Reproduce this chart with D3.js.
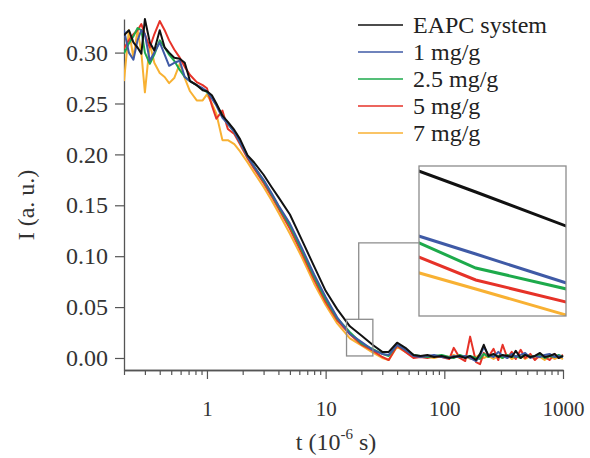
<!DOCTYPE html>
<html>
<head>
<meta charset="utf-8">
<script src="https://d3js.org/d3.v7.min.js"></script>
<style>
  body { margin: 0; background: #fff; }
  svg { display: block; }
</style>
</head>
<body>
<div id="chart"></div>
<script>
// time axis (10^-6 s)
var times = [0.2, 0.22, 0.24, 0.26, 0.28, 0.3, 0.33, 0.36, 0.4, 0.44,
  0.48, 0.53, 0.59, 0.65, 0.72, 0.82, 0.92, 1.0, 1.1, 1.2,
  1.35, 1.5, 1.7, 1.9, 2.2, 2.5, 3.0, 3.5, 4.0, 5.0,
  6.3, 8.0, 10, 12.5, 16, 20, 25, 30, 34, 40,
  47, 55, 63, 72, 82, 95, 110, 120, 135, 150,
  165, 185, 200, 215, 235, 260, 285, 310, 340, 370,
  400, 440, 480, 530, 580, 640, 700, 770, 850, 920, 1000];

var eapc = [0.317, 0.322, 0.310, 0.305, 0.299, 0.333, 0.310, 0.302, 0.322, 0.305,
  0.300, 0.295, 0.294, 0.290, 0.272, 0.268, 0.263, 0.262, 0.258, 0.250,
  0.238, 0.232, 0.224, 0.215, 0.199, 0.192, 0.180, 0.168, 0.158, 0.141,
  0.116, 0.090, 0.066, 0.048, 0.0311, 0.0220, 0.0127, 0.006, 0.006, 0.015,
  0.010, 0.003, 0.002, 0.003, 0.001, 0.002, 0.000, 0.001, 0.002, 0.000,
  0.002, -0.002, 0.004, 0.013, 0.002, 0.004, 0.001, 0.003, 0.002, 0.001,
  0.007, 0.000, 0.003, 0.001, 0.002, 0.005, 0.001, 0.002, 0.004, 0.000, 0.002];

var mg1 = [0.322, 0.300, 0.293, 0.312, 0.322, 0.318, 0.292, 0.300, 0.310, 0.298,
  0.287, 0.290, 0.292, 0.276, 0.272, 0.268, 0.265, 0.262, 0.255, 0.248,
  0.236, 0.230, 0.222, 0.212, 0.198, 0.188, 0.175, 0.162, 0.150, 0.132,
  0.108, 0.082, 0.060, 0.040, 0.0236, 0.0158, 0.0079, 0.004, 0.003, 0.013,
  0.008, 0.002, 0.001, 0.002, 0.003, 0.001, 0.000, 0.002, 0.001, 0.002,
  0.000, -0.003, 0.002, 0.011, 0.003, 0.001, 0.006, 0.002, 0.000, 0.004,
  0.001, 0.003, 0.005, 0.000, 0.002, 0.001, 0.003, 0.004, 0.001, 0.002, 0.001];

var mg25 = [0.299, 0.309, 0.316, 0.324, 0.322, 0.300, 0.289, 0.298, 0.312, 0.305,
  0.298, 0.292, 0.283, 0.276, 0.272, 0.268, 0.264, 0.261, 0.256, 0.249,
  0.238, 0.230, 0.222, 0.212, 0.198, 0.188, 0.174, 0.161, 0.149, 0.130,
  0.106, 0.080, 0.058, 0.039, 0.0253, 0.0144, 0.0087, 0.004, 0.002, 0.013,
  0.008, 0.003, 0.002, 0.001, 0.002, 0.003, 0.001, 0.000, 0.003, 0.001,
  0.002, 0.000, -0.001, 0.004, 0.001, 0.003, 0.002, 0.000, 0.003, 0.001,
  0.002, 0.000, 0.004, 0.001, 0.002, 0.003, 0.000, 0.002, 0.001, 0.003, 0.001];

var mg5 = [0.304, 0.312, 0.318, 0.322, 0.328, 0.318, 0.305, 0.318, 0.331, 0.322,
  0.312, 0.303, 0.295, 0.286, 0.278, 0.271, 0.268, 0.265, 0.248, 0.235,
  0.243, 0.225, 0.220, 0.210, 0.196, 0.186, 0.172, 0.159, 0.147, 0.127,
  0.103, 0.077, 0.055, 0.037, 0.0232, 0.0132, 0.0072, 0.001, -0.002, 0.012,
  0.006, 0.000, 0.001, 0.000, 0.002, 0.001, -0.001, 0.010, 0.000, -0.003,
  0.021, -0.004, -0.006, 0.005, 0.001, 0.009, -0.002, 0.013, 0.000, 0.006,
  -0.001, 0.008, 0.000, 0.004, -0.002, 0.003, 0.001, -0.002, 0.004, 0.000, 0.003];

var mg7 = [0.272, 0.322, 0.295, 0.322, 0.300, 0.261, 0.309, 0.290, 0.280, 0.276,
  0.270, 0.275, 0.289, 0.275, 0.262, 0.253, 0.253, 0.259, 0.250, 0.240,
  0.214, 0.214, 0.210, 0.203, 0.192, 0.182, 0.168, 0.155, 0.143, 0.122,
  0.099, 0.073, 0.052, 0.034, 0.0193, 0.0123, 0.0052, 0.000, -0.002, 0.011,
  0.006, 0.001, 0.002, 0.001, 0.000, 0.002, 0.001, 0.003, 0.000, 0.002,
  -0.001, 0.001, 0.003, 0.000, 0.002, -0.001, 0.002, 0.000, 0.003, -0.001,
  0.001, 0.003, -0.001, 0.002, 0.000, 0.001, -0.002, 0.002, -0.001, 0.001, -0.001];

var seriesNames  = ["EAPC system", "1 mg/g", "2.5 mg/g", "5 mg/g", "7 mg/g"];
var seriesValues = [eapc, mg1, mg25, mg5, mg7];
var seriesColors = ["#111111", "#3f5aa6", "#1daa4b", "#e63228", "#f8b133"];

var yTicks     = [0.00, 0.05, 0.10, 0.15, 0.20, 0.25, 0.30];
var xTicks     = [1, 10, 100, 1000];
var xMinorBase = [2, 3, 4, 5, 6, 7, 8, 9];

// zoomed region marked in the main plot and the inset's own window
var zoomT      = [15, 25];
var zoomI      = [0.002, 0.038];
var connectorT = 19;
var connectorI = 0.113;
var insetT     = [19, 21.7];
var insetI     = [0.0096, 0.0246];

var width  = 590;
var height = 458;
var font   = "'Liberation Serif', 'Times New Roman', serif";

var svg = d3.select("#chart")
    .append("svg")
    .attr("width", width)
    .attr("height", height)
    .style("font-family", font);

////////////
/// Axes ///
////////////

var x = d3.scaleLog().domain([0.2, 1000]).range([124, 563]);
var y = d3.scaleLinear().domain([-0.0118, 0.333]).range([370, 19]);

var minorTicks = [];
[0.1, 1, 10, 100].forEach(function (d) {
    xMinorBase.forEach(function (m) {
        var v = +(d * m).toPrecision(3);
        if (v >= 0.2 && v <= 1000) minorTicks.push(v);
    });
});

var axisColor = "#555";

var xMinor = svg.append("g")
    .attr("transform", "translate(0," + 370 + ")")
    .call(d3.axisBottom(x).tickValues(minorTicks).tickFormat("").tickSize(5).tickSizeOuter(0));

var xAxis = svg.append("g")
    .attr("transform", "translate(0," + 370 + ")")
    .call(d3.axisBottom(x).tickValues(xTicks).tickFormat(d3.format("d")).tickSize(9).tickSizeOuter(0).tickPadding(22));

var yAxis = svg.append("g")
    .attr("transform", "translate(" + 124 + ",0)")
    .call(d3.axisLeft(y).tickValues(yTicks).tickFormat(d3.format(".2f")).tickSize(9).tickSizeOuter(0).tickPadding(7));

[xMinor, xAxis, yAxis].forEach(function (g) {
    g.selectAll("path.domain").attr("stroke", axisColor).attr("stroke-width", 1.3);
    g.selectAll(".tick line").attr("stroke", axisColor).attr("stroke-width", 1.2);
    g.selectAll(".tick text")
        .attr("fill", "#333")
        .style("font-family", font)
        .style("font-size", "21px");
});
yAxis.selectAll(".tick text").style("font-size", "24px");

//////////////
/// Labels ///
//////////////

var xLabel = svg.append("text")
    .attr("x", 336)
    .attr("y", 450)
    .attr("text-anchor", "middle")
    .attr("fill", "#333")
    .style("font-size", "24px");
xLabel.append("tspan").text("t (10");
xLabel.append("tspan").attr("dy", -11).style("font-size", "15px").text("-6");
xLabel.append("tspan").attr("dy", 11).text(" s)");

svg.append("text")
    .attr("transform", "translate(" + 34 + "," + 205 + ") rotate(-90)")
    .attr("text-anchor", "middle")
    .attr("fill", "#333")
    .style("font-size", "24px")
    .text("I (a. u.)");

//////////////
/// Curves ///
//////////////

svg.append("defs").append("clipPath")
    .attr("id", "plot-clip")
    .append("rect")
    .attr("x", 124).attr("y", 10)
    .attr("width", 445).attr("height", 362);

var line = d3.line()
    .x(function (d) { return x(d[0]); })
    .y(function (d) { return y(d[1]); });

var curves = svg.append("g").attr("clip-path", "url(#plot-clip)");

// draw the last series first so black ends up on top
for (var i = seriesValues.length - 1; i >= 0; i--) {
    curves.append("path")
        .datum(d3.zip(times, seriesValues[i]))
        .attr("fill", "none")
        .attr("stroke", seriesColors[i])
        .attr("stroke-width", 2)
        .attr("stroke-linejoin", "round")
        .attr("d", line);
}

//////////////
/// Legend ///
//////////////

var legend = svg.append("g");
seriesNames.forEach(function (name, i) {
    var ly = 25 + i * 27;
    legend.append("line")
        .attr("x1", 358).attr("x2", 403)
        .attr("y1", ly).attr("y2", ly)
        .attr("stroke", seriesColors[i])
        .attr("stroke-width", 1.6);
    legend.append("text")
        .attr("x", 413)
        .attr("y", ly)
        .attr("dy", "0.35em")
        .attr("fill", "#222")
        .style("font-size", "24px")
        .text(name);
});

/////////////
/// Inset ///
/////////////

var inset = {x: 419, y: 166, w: 147, h: 150};
var boxColor = "#8c8c8c";

svg.append("rect")
    .attr("x", x(zoomT[0]))
    .attr("y", y(zoomI[1]))
    .attr("width", x(zoomT[1]) - x(zoomT[0]))
    .attr("height", y(zoomI[0]) - y(zoomI[1]))
    .attr("fill", "none")
    .attr("stroke", boxColor)
    .attr("stroke-width", 1.3);

svg.append("polyline")
    .attr("points", [
        [x(connectorT), y(zoomI[1])],
        [x(connectorT), y(connectorI)],
        [inset.x, y(connectorI)]
    ].join(" "))
    .attr("fill", "none")
    .attr("stroke", boxColor)
    .attr("stroke-width", 1.3);

var ix = d3.scaleLog().domain(insetT).range([inset.x, inset.x + inset.w]);
var iy = d3.scaleLinear().domain(insetI).range([inset.y + inset.h, inset.y]);

svg.select("defs").append("clipPath")
    .attr("id", "inset-clip")
    .append("rect")
    .attr("x", inset.x).attr("y", inset.y)
    .attr("width", inset.w).attr("height", inset.h);

svg.append("rect")
    .attr("x", inset.x).attr("y", inset.y)
    .attr("width", inset.w).attr("height", inset.h)
    .attr("fill", "#fff");

var insetLine = d3.line()
    .x(function (d) { return ix(d[0]); })
    .y(function (d) { return iy(d[1]); });

var insetCurves = svg.append("g").attr("clip-path", "url(#inset-clip)");
for (var j = seriesValues.length - 1; j >= 0; j--) {
    insetCurves.append("path")
        .datum(d3.zip(times, seriesValues[j]).filter(function (d) { return d[0] >= 12 && d[0] <= 30; }))
        .attr("fill", "none")
        .attr("stroke", seriesColors[j])
        .attr("stroke-width", 3)
        .attr("d", insetLine);
}

svg.append("rect")
    .attr("x", inset.x).attr("y", inset.y)
    .attr("width", inset.w).attr("height", inset.h)
    .attr("fill", "none")
    .attr("stroke", boxColor)
    .attr("stroke-width", 1.3);
</script>
</body>
</html>
